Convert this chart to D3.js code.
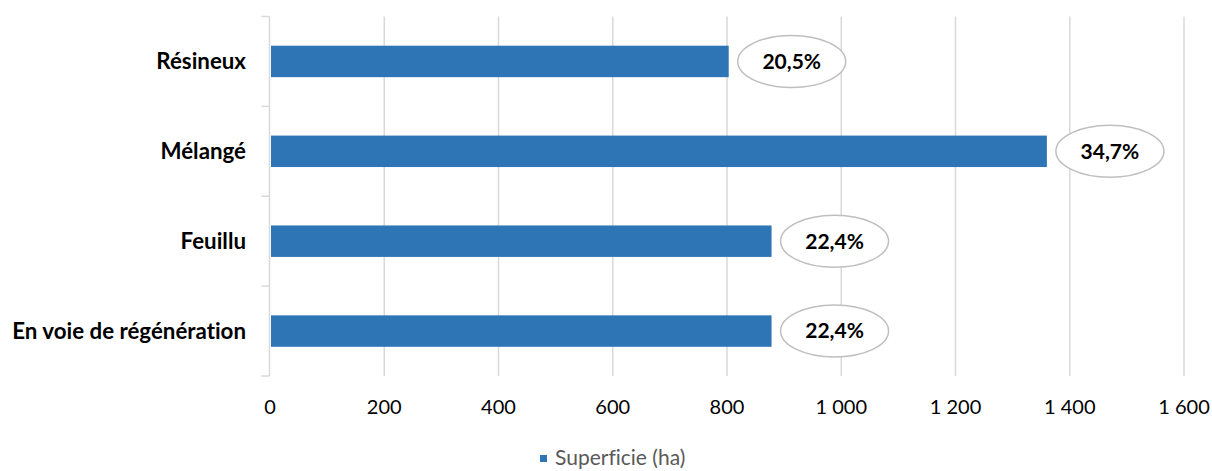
<!DOCTYPE html>
<html><head><meta charset="utf-8">
<script src="https://cdn.jsdelivr.net/npm/d3@7/dist/d3.min.js"></script>
<style>body{margin:0;background:#fff}svg{display:block}text{font-family:Lato,"Open Sans",sans-serif;font-variant-ligatures:none;font-feature-settings:"liga" 0}</style>
</head><body>
<svg id="c" width="1212" height="471"></svg>
<script>
const categories = ["Résineux", "Mélangé", "Feuillu", "En voie de régénération"];
const values = [803, 1360, 878, 878];
const percentLabels = ["20,5%", "34,7%", "22,4%", "22,4%"];
const tickValues = [0, 200, 400, 600, 800, 1000, 1200, 1400, 1600];
const seriesName = "Superficie (ha)";

const svg = d3.select("#c");
const x = d3.scaleLinear().domain([0, 1600]).range([270, 1184]);
const y = d3.scaleBand().domain(categories).range([16.5, 376]).paddingInner(0.65).paddingOuter(0.325);
const fmt = v => d3.format(",")(v).replace(/,/g, " ");

// gridlines
svg.append("g").selectAll("line").data(tickValues.slice(1)).join("line")
  .attr("x1", d => x(d)).attr("x2", d => x(d)).attr("y1", 16.5).attr("y2", 376)
  .attr("stroke", "#d9d9d9").attr("stroke-width", 1.5);

// left axis with ticks
const yAxisG = svg.append("g").attr("transform", "translate(269.5,0)");
yAxisG.append("line").attr("x1", 0).attr("x2", 0).attr("y1", 16.5).attr("y2", 376).attr("stroke", "#d9d9d9").attr("stroke-width", 1.5);
const bounds = [16.5].concat(categories.map(c => y(c) + y.bandwidth() + y.step() * 0.325 ));
yAxisG.selectAll("line.t").data(bounds).join("line").attr("class", "t")
  .attr("x1", -8).attr("x2", 0).attr("y1", d => d).attr("y2", d => d)
  .attr("stroke", "#d9d9d9").attr("stroke-width", 1.5);

// bars
svg.append("g").selectAll("rect").data(categories).join("rect")
  .attr("x", x(0) + 1).attr("y", d => y(d)).attr("height", y.bandwidth())
  .attr("width", (d, i) => x(values[i]) - x(0) - 1).attr("fill", "#2e75b6");

// category labels
svg.append("g").selectAll("text").data(categories).join("text")
  .attr("x", 246).attr("y", d => y(d) + y.bandwidth() / 2).attr("dy", "0.35em")
  .attr("text-anchor", "end").attr("font-weight", "bold").attr("font-size", 22.3).attr("fill", "#000")
  .text(d => d);

// x tick labels
svg.append("g").selectAll("text").data(tickValues).join("text")
  .attr("x", d => x(d)).attr("y", 407).attr("dy", "0.35em").attr("text-anchor", "middle")
  .attr("font-size", 20).attr("fill", "#000").text(fmt);

// data labels in ellipses
const lab = svg.append("g").selectAll("g").data(categories).join("g")
  .attr("transform", (d, i) => `translate(${x(values[i]) + 63},${y(d) + y.bandwidth() / 2})`);
lab.append("ellipse").attr("rx", 54).attr("ry", 26).attr("fill", "#fff").attr("stroke", "#bfbfbf").attr("stroke-width", 1.5);
lab.append("text").attr("text-anchor", "middle").attr("dy", "0.35em").attr("font-weight", "bold")
  .attr("font-size", 21).attr("fill", "#000").text((d, i) => percentLabels[i]);

// legend
const lg = svg.append("g");
lg.append("rect").attr("x", 540).attr("y", 455).attr("width", 7).attr("height", 7).attr("fill", "#2e75b6");
lg.append("text").attr("x", 555).attr("y", 465).attr("font-size", 21).attr("fill", "#595959").text(seriesName);
</script>
</body></html>
